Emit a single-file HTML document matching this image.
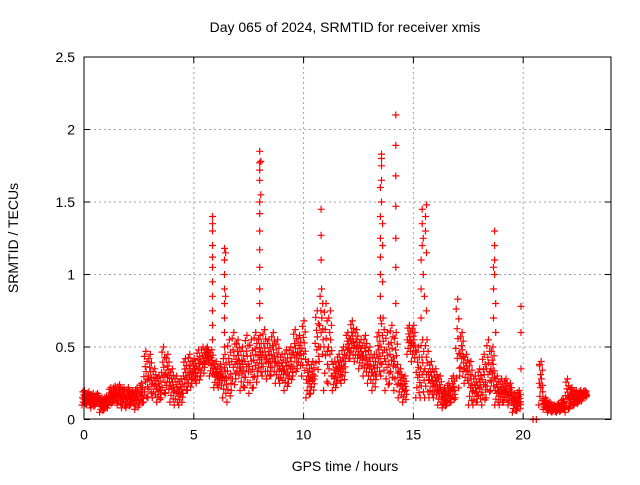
<!DOCTYPE html>
<html><head><meta charset="utf-8"><style>
body{margin:0;background:#fff}
svg text{font-family:"Liberation Sans",sans-serif;fill:#000}
</style></head><body>
<svg id="chart" width="640" height="480" xmlns="http://www.w3.org/2000/svg">
<text x="345" y="32" font-size="14" text-anchor="middle">Day 065 of 2024, SRMTID for receiver xmis</text>
<text transform="translate(18,238) rotate(-90)" font-size="14" text-anchor="middle">SRMTID / TECUs</text>
<text x="345" y="471" font-size="14" text-anchor="middle">GPS time / hours</text>
<g id="grid"></g>
<g id="marks"></g>
<rect x="84" y="57" width="527" height="362" fill="none" stroke="#000" stroke-width="1"/>
<g id="ticks"></g>
</svg>
<script>
const xTicks=[0,5,10,15,20];
const yTicks=[0,0.5,1,1.5,2,2.5];
const yTickLabels=["0","0.5","1","1.5","2","2.5"];
const times=[0,0.2,0.4,0.6,0.8,1,1.2,1.4,1.6,1.8,2,2.2,2.4,2.6,2.8,3,3.2,3.4,3.6,3.8,4,4.2,4.4,4.6,4.8,5,5.2,5.4,5.6,5.8,6,6.2,6.4,6.6,6.8,7,7.2,7.4,7.6,7.8,8,8.2,8.4,8.6,8.8,9,9.2,9.4,9.6,9.8,10,10.2,10.4,10.6,10.8,11,11.2,11.4,11.6,11.8,12,12.2,12.4,12.6,12.8,13,13.2,13.4,13.6,13.8,14,14.2,14.4,14.6,14.8,15,15.2,15.4,15.6,15.8,16,16.2,16.4,16.6,16.8,17,17.2,17.4,17.6,17.8,18,18.2,18.4,18.6,18.8,19,19.2,19.4,19.6,19.8,20.8,21,21.2,21.4,21.6,21.8,22,22.2,22.4,22.6,22.8];
const lowVals=[.10,.10,.08,.10,.05,.07,.10,.12,.10,.08,.08,.10,.07,.10,.12,.15,.15,.12,.15,.18,.12,.10,.10,.18,.20,.25,.25,.30,.38,.30,.22,.22,.15,.12,.20,.28,.20,.22,.18,.22,.30,.30,.28,.30,.25,.25,.20,.25,.30,.35,.30,.15,.18,.30,.40,.20,.25,.20,.25,.25,.40,.42,.40,.35,.30,.25,.20,.30,.30,.20,.25,.20,.15,.12,.45,.40,.15,.15,.15,.15,.15,.10,.08,.10,.12,.15,.30,.25,.10,.10,.12,.10,.15,.20,.10,.10,.12,.10,.05,.06,.10,.07,.05,.05,.05,.06,.05,.08,.10,.12,.15];
const highVals=[.20,.19,.18,.18,.15,.16,.22,.23,.24,.22,.22,.20,.22,.25,.47,.45,.35,.30,.50,.45,.35,.30,.28,.42,.45,.42,.48,.50,.50,.48,.40,.38,.45,.55,.60,.55,.50,.58,.55,.60,.58,.62,.55,.60,.55,.45,.48,.50,.62,.58,.68,.40,.40,.75,.90,.80,.75,.40,.45,.50,.60,.68,.62,.55,.58,.50,.45,.60,.70,.60,.65,.60,.35,.30,.65,.65,.50,.55,.55,.40,.35,.30,.22,.25,.30,.83,.60,.45,.40,.30,.35,.45,.55,.50,.30,.28,.28,.25,.18,.20,.40,.15,.12,.10,.11,.14,.28,.22,.20,.20,.20];
const spikeTimes=[5.85,5.85,5.85,5.85,5.85,5.85,5.85,5.85,5.85,5.85,5.85,6.4,6.4,6.4,6.4,6.4,6.4,6.4,6.4,6.45,6.45,8.0,8.0,8.0,8.0,8.0,8.0,8.0,8.0,8.0,8.0,8.0,8.0,8.05,8.05,10.8,10.8,10.8,13.5,13.5,13.5,13.5,13.5,13.5,13.5,13.55,13.55,13.55,13.55,13.55,13.6,13.6,13.6,14.2,14.2,14.2,14.2,14.2,14.2,14.2,15.35,15.35,15.35,15.4,15.4,15.4,15.45,15.45,15.5,15.55,15.55,15.6,15.6,15.6,18.65,18.65,18.65,18.7,18.7,18.7,18.7,18.75,18.75,19.9,19.9,19.9,20.75,20.75,20.45,20.6];
const spikeVals=[0.55,0.65,0.75,0.85,0.95,1.05,1.12,1.2,1.3,1.35,1.4,0.5,0.6,0.7,0.8,0.9,1.0,1.1,1.18,1.15,0.85,0.7,0.8,0.9,1.05,1.17,1.3,1.42,1.5,1.65,1.72,1.77,1.85,1.78,1.55,1.1,1.27,1.45,0.7,0.85,1.0,1.12,1.25,1.4,1.6,1.5,1.65,1.75,1.8,1.83,0.95,1.2,1.35,0.8,1.05,1.25,1.47,1.68,1.89,2.1,0.7,0.9,1.1,1.2,1.35,1.45,1.25,1.0,0.85,1.3,1.4,1.48,1.15,0.75,0.7,0.9,1.05,1.1,1.2,1.3,1.0,0.8,0.6,0.35,0.6,0.78,0.25,0.38,0.0,0.0];
const NS="http://www.w3.org/2000/svg";
const X0=84,X1=611,Y0=419.5,Y1=57;
function xs(h){return X0+(X1-X0)*h/24;}
function ys(v){return Y0-(Y0-Y1)*v/2.5;}
const grid=document.getElementById('grid'),ticks=document.getElementById('ticks'),marks=document.getElementById('marks');
function line(p,x1,y1,x2,y2,st,dash){const l=document.createElementNS(NS,'line');l.setAttribute('x1',x1);l.setAttribute('y1',y1);l.setAttribute('x2',x2);l.setAttribute('y2',y2);l.setAttribute('stroke',st);if(dash)l.setAttribute('stroke-dasharray',dash);p.appendChild(l);return l;}
function txt(p,x,y,s,anchor){const t=document.createElementNS(NS,'text');t.setAttribute('x',x);t.setAttribute('y',y);t.setAttribute('font-size','14');t.setAttribute('text-anchor',anchor);t.textContent=s;p.appendChild(t);return t;}
xTicks.forEach(v=>{const x=xs(v);
 if(v>0){const g=line(grid,x,Y1,x,Y0,'#a0a0a0','2,3');}
 line(ticks,x,Y0,x,Y0-6,'#000');line(ticks,x,Y1,x,Y1+6,'#000');
 const t=txt(ticks,x,Y0+20,String(v),'middle');
 
 });
yTicks.forEach((v,i)=>{const y=ys(v);
 if(v>0&&v<2.5){const g=line(grid,X0,y,X1,y,'#a0a0a0','2,3');}
 line(ticks,X0,y,X0+6,y,'#000');line(ticks,X1,y,X1-6,y,'#000');
 const t=txt(ticks,X0-9,y+5,yTickLabels[i],'end');
 
 });
let d='';
function plus(h,v){const x=xs(h),y=ys(v);d+=`M${(x-3.5).toFixed(1)} ${y.toFixed(1)}h7M${x.toFixed(1)} ${(y-3.5).toFixed(1)}v7`;}
const offs=[-0.09,0.06,-0.04,0.09,0.0,-0.07,0.03,-0.01,0.07,-0.05,0.02,0.08];
const fr=[0,0.1,0.2,0.3,0.4,0.5,0.6,0.7,0.8,0.9,1.0,0.45];
times.forEach((t,i)=>{const lo=lowVals[i],hi=highVals[i];
 for(let k=0;k<offs.length;k++){plus(t+offs[k],lo+(hi-lo)*fr[k]);}
});
spikeTimes.forEach((t,i)=>plus(t,spikeVals[i]));
const p=document.createElementNS(NS,'path');
p.setAttribute('d',d);p.setAttribute('stroke','#f00');p.setAttribute('stroke-width','1.2');p.setAttribute('fill','none');


marks.appendChild(p);
</script>
</body></html>
